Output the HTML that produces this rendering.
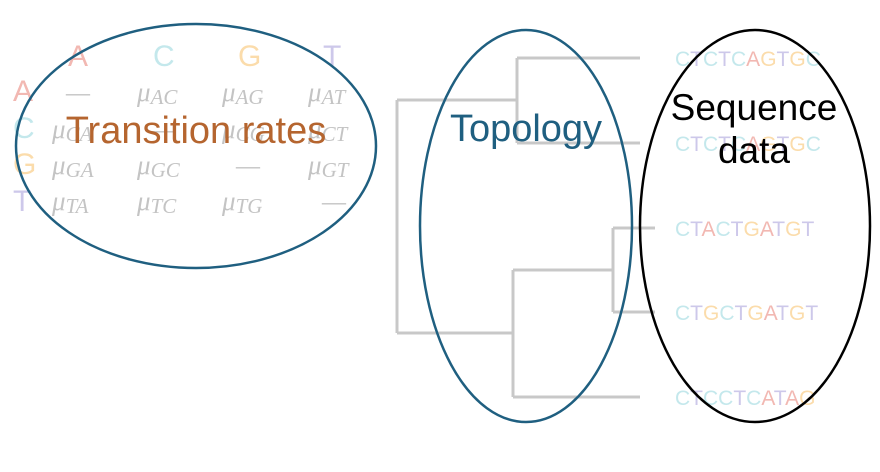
<!DOCTYPE html>
<html><head><meta charset="utf-8"><style>
html,body{margin:0;padding:0;background:#fff;width:880px;height:472px;overflow:hidden}
svg text{font-family:"Liberation Sans",sans-serif}
.mu{font-family:"Liberation Serif",serif;font-style:italic;fill:#c4c4c4;font-size:27px}
</style></head><body>
<svg width="880" height="472" viewBox="0 0 880 472">
<g font-size="30">
<text x="68" y="66" fill="#f2b8b2">A</text>
<text x="153" y="66" fill="#c4e8ec">C</text>
<text x="238" y="66" fill="#fbdcab">G</text>
<text x="323" y="66" fill="#cdc8ea">T</text>
<text x="13" y="101" fill="#f2b8b2">A</text>
<text x="13" y="138" fill="#c4e8ec">C</text>
<text x="13" y="174" fill="#fbdcab">G</text>
<text x="13" y="211" fill="#cdc8ea">T</text>
</g>
<g id="cells"></g>
<g id="tree" stroke="#c8c8c8" stroke-width="3" fill="none"></g>
<g id="seqs" font-size="21"></g>
<ellipse cx="196" cy="146" rx="180" ry="122" fill="none" stroke="#1f5f80" stroke-width="2.5"/>
<ellipse cx="526" cy="226" rx="106" ry="196" fill="none" stroke="#1f5f80" stroke-width="2.5"/>
<ellipse cx="755" cy="226" rx="115" ry="196" fill="none" stroke="#000" stroke-width="2.5"/>
<text x="196" y="143" text-anchor="middle" font-size="38" fill="#b5652f">Transition rates</text>
<text x="526" y="141" text-anchor="middle" font-size="38" fill="#1f5f80">Topology</text>
<text x="754" y="120" text-anchor="middle" font-size="37" fill="#000">Sequence</text>
<text x="754" y="163" text-anchor="middle" font-size="37" fill="#000">data</text>
</svg>
<script>
const bases=["A","C","G","T"];
const sequences=["CTCTCAGTGC","CTCTCAGTGC","CTACTGATGT","CTGCTGATGT","CTCCTCATAG"];
const baseColors={A:"#f2b8b2",C:"#c4e8ec",G:"#fbdcab",T:"#cdc8ea"};
const ns="http://www.w3.org/2000/svg";
const cells=document.getElementById('cells');
const colX=[52,137,222,308], rowY=[101,138,174,210];
bases.forEach((r,i)=>bases.forEach((c,j)=>{
  const t=document.createElementNS(ns,'text');
  
  
  t.setAttribute('x',colX[j]+(i===j?14:0));t.setAttribute('y',rowY[i]);
  t.setAttribute('class','mu');
  if(i===j){t.textContent='—';}
  else{t.innerHTML='μ<tspan font-size="21" dy="3">'+r+c+'</tspan>';}
  cells.appendChild(t);
}));
const leafY=[58,143,228,312,397];
const tree=document.getElementById('tree');
const segs=[[517,leafY[0],640,leafY[0]],[517,leafY[1],640,leafY[1]],[517,leafY[0],517,leafY[1]],
[613,leafY[2],655,leafY[2]],[613,leafY[3],655,leafY[3]],[613,leafY[2],613,leafY[3]],
[513,270,613,270],[513,leafY[4],640,leafY[4]],[513,270,513,leafY[4]],
[397,100,517,100],[397,333,513,333],[397,100,397,333]];
segs.forEach(s=>{const l=document.createElementNS(ns,'line');


l.setAttribute('x1',s[0]);l.setAttribute('y1',s[1]);l.setAttribute('x2',s[2]);l.setAttribute('y2',s[3]);tree.appendChild(l);});
const seqG=document.getElementById('seqs');
sequences.forEach((s,i)=>{const t=document.createElementNS(ns,'text');


t.setAttribute('x',675);t.setAttribute('y',leafY[i]+8);
t.innerHTML=s.split('').map(ch=>'<tspan fill="'+baseColors[ch]+'">'+ch+'</tspan>').join('');
seqG.appendChild(t);});
</script>
</body></html>
